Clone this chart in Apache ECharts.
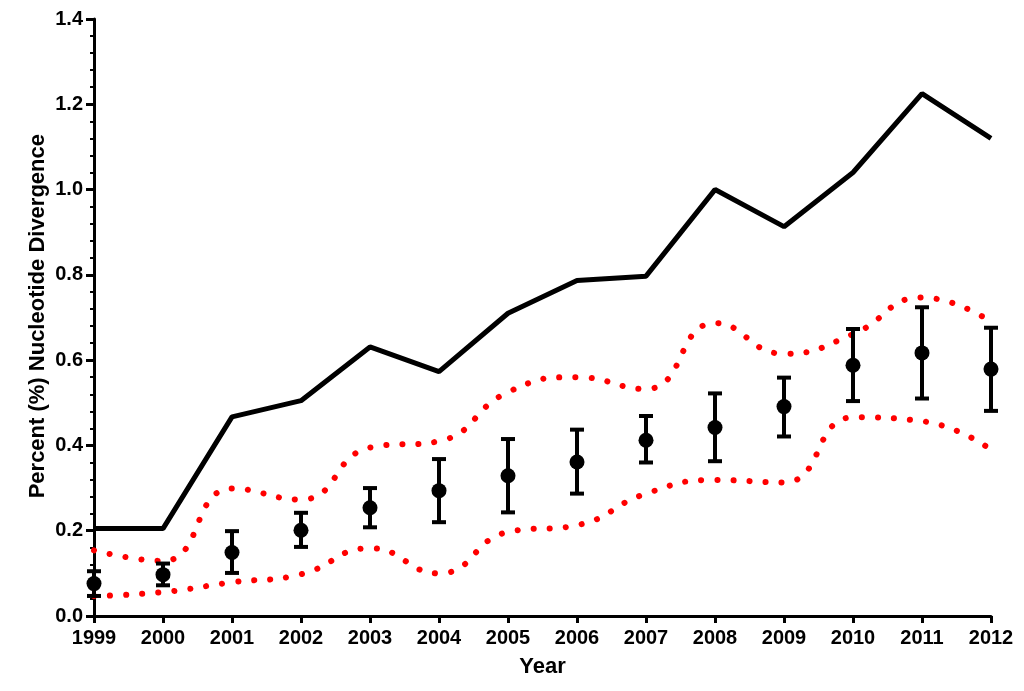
<!DOCTYPE html>
<html>
<head>
<meta charset="utf-8">
<script src="https://cdn.jsdelivr.net/npm/echarts@6/dist/echarts.min.js"></script>
<style>
  html, body { margin: 0; padding: 0; background: #fff; }
  #main { width: 1024px; height: 691px; }
</style>
</head>
<body>
<div id="main"></div>
<script>
// years on the x axis
var years = [1999, 2000, 2001, 2002, 2003, 2004, 2005, 2006, 2007, 2008, 2009, 2010, 2011, 2012];

// solid black line
var maxLine = [0.205, 0.205, 0.467, 0.505, 0.631, 0.573, 0.710, 0.787, 0.797, 1.000, 0.913, 1.040, 1.225, 1.120];

// mean points and their error bars
var means = [0.076, 0.097, 0.149, 0.201, 0.254, 0.294, 0.329, 0.361, 0.412, 0.442, 0.491, 0.588, 0.617, 0.579];
var errLow = [0.047, 0.072, 0.101, 0.162, 0.208, 0.220, 0.243, 0.287, 0.360, 0.363, 0.421, 0.504, 0.510, 0.481];
var errHigh = [0.105, 0.123, 0.199, 0.242, 0.300, 0.368, 0.415, 0.437, 0.469, 0.522, 0.559, 0.673, 0.724, 0.676];

// red dotted bounds
var upperBound = [0.154, 0.129, 0.299, 0.273, 0.395, 0.410, 0.525, 0.560, 0.532, 0.687, 0.615, 0.661, 0.747, 0.690];
var lowerBound = [0.047, 0.056, 0.079, 0.098, 0.159, 0.100, 0.197, 0.213, 0.287, 0.319, 0.313, 0.466, 0.457, 0.390];

var yTicks = [0, 0.2, 0.4, 0.6, 0.8, 1.0, 1.2, 1.4];

function pairs(vals) {
    return years.map(function (y, i) { return [y, vals[i]]; });
}

var labelFont = 'Liberation Sans, Arial, sans-serif';
var dotted = { color: '#ff0000', width: 6, type: [0.1, 16], cap: 'round' };

var chart = echarts.init(document.getElementById('main'));

var option = {
    backgroundColor: '#ffffff',
    animation: false,
    grid: { left: 94, right: 33, top: 19, bottom: 75 },
    xAxis: {
        type: 'value',
        min: years[0],
        max: years[years.length - 1],
        interval: 1,
        name: 'Year',
        nameLocation: 'middle',
        nameGap: 40,
        nameTextStyle: { fontFamily: labelFont, fontWeight: 'bold', fontSize: 22, color: '#000' },
        axisLine: { lineStyle: { color: '#000', width: 3 } },
        axisTick: { length: 7, lineStyle: { color: '#000', width: 3 } },
        axisLabel: {
            margin: 12,
            fontFamily: labelFont, fontWeight: 'bold', fontSize: 20, color: '#000',
            formatter: function (v) { return String(v); }
        },
        splitLine: { show: false }
    },
    yAxis: {
        type: 'value',
        min: yTicks[0],
        max: yTicks[yTicks.length - 1],
        interval: 0.2,
        axisLine: { show: true, lineStyle: { color: '#000', width: 3 } },
        axisTick: { show: true, length: 8, lineStyle: { color: '#000', width: 3 } },
        minorTick: { show: true, splitNumber: 5, length: 4, lineStyle: { color: '#000', width: 2 } },
        axisLabel: {
            margin: 11,
            fontFamily: labelFont, fontWeight: 'bold', fontSize: 20, color: '#000',
            formatter: function (v) { return v.toFixed(1); }
        },
        splitLine: { show: false }
    },
    graphic: [{
        type: 'text',
        left: 27,
        top: 134,
        rotation: Math.PI / 2,
        style: {
            text: 'Percent (%) Nucleotide Divergence',
            fontFamily: labelFont, fontWeight: 'bold', fontSize: 22, fill: '#000'
        }
    }],
    series: [
        {
            name: 'upper',
            type: 'line',
            data: pairs(upperBound),
            smooth: 0.5,
            symbol: 'none',
            lineStyle: dotted,
            z: 2
        },
        {
            name: 'lower',
            type: 'line',
            data: pairs(lowerBound),
            smooth: 0.5,
            symbol: 'none',
            lineStyle: dotted,
            z: 2
        },
        {
            name: 'max',
            type: 'line',
            data: pairs(maxLine),
            symbol: 'none',
            lineStyle: { color: '#000', width: 5 },
            z: 3
        },
        {
            name: 'err',
            type: 'custom',
            data: years.map(function (y, i) { return [y, errLow[i], errHigh[i]]; }),
            renderItem: function (params, api) {
                var lo = api.coord([api.value(0), api.value(1)]);
                var hi = api.coord([api.value(0), api.value(2)]);
                var w = 7;
                var st = { stroke: '#000', lineWidth: 4 };
                return {
                    type: 'group',
                    children: [
                        { type: 'line', shape: { x1: lo[0], y1: lo[1], x2: hi[0], y2: hi[1] }, style: st },
                        { type: 'line', shape: { x1: lo[0] - w, y1: lo[1], x2: lo[0] + w, y2: lo[1] }, style: st },
                        { type: 'line', shape: { x1: hi[0] - w, y1: hi[1], x2: hi[0] + w, y2: hi[1] }, style: st }
                    ]
                };
            },
            clip: false,
            z: 4
        },
        {
            name: 'mean',
            type: 'scatter',
            data: pairs(means),
            symbol: 'circle',
            symbolSize: 15,
            itemStyle: { color: '#000', opacity: 1 },
            z: 5
        }
    ]
};

chart.setOption(option);
</script>
</body>
</html>
